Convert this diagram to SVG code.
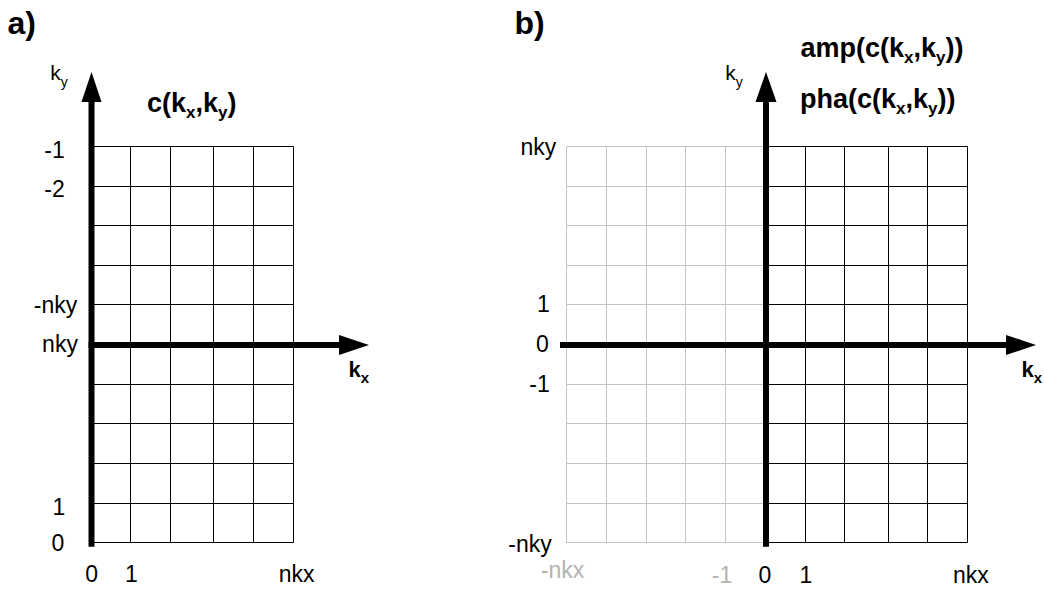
<svg xmlns="http://www.w3.org/2000/svg" width="1044" height="593" viewBox="0 0 1044 593">
<style>
.bg{fill:#fff}
.g{stroke:#000;stroke-width:1;fill:none}
.gg{stroke:#c4c4c4;stroke-width:1;fill:none}
.ax{stroke:#000;stroke-width:6;fill:none}
.hd{fill:#000}
text{font-family:"Liberation Sans",Arial,sans-serif;fill:#000}
.t{font-size:23px;text-anchor:middle}
.tg{font-size:23px;text-anchor:middle;fill:#b3b3b3}
.b{font-weight:bold}
.pl{font-size:32px;font-weight:bold}
.ti{font-size:27px;font-weight:bold}
.kl{font-size:21px}
.kb{font-size:22px;font-weight:bold}
</style>
<rect class="bg" x="0" y="0" width="1044" height="593"/>
<g id="panel-a-grid">
<path class="g" d="M130.5 146.5V542.5M170.5 146.5V542.5M213.5 146.5V542.5M253.5 146.5V542.5M293.5 146.5V542.5M91 146.5H293.5M91 186.5H293.5M91 225.5H293.5M91 265.5H293.5M91 304.5H293.5M91 384.5H293.5M91 423.5H293.5M91 463.5H293.5M91 503.5H293.5M91 542.5H293.5"/>
</g>
<g id="panel-b-grid">
<path class="gg" d="M566.5 146.5V542.5M606.5 146.5V542.5M646.5 146.5V542.5M685.5 146.5V542.5M725.5 146.5V542.5M566.5 146.5H766M566.5 186.5H766M566.5 225.5H766M566.5 265.5H766M566.5 304.5H766M566.5 384.5H766M566.5 423.5H766M566.5 463.5H766M566.5 503.5H766M566.5 542.5H766"/>
<path class="g" d="M805.5 146.5V542.5M844.5 146.5V542.5M888.5 146.5V542.5M927.5 146.5V542.5M967.5 146.5V542.5M766 146.5H967.5M766 186.5H967.5M766 225.5H967.5M766 265.5H967.5M766 304.5H967.5M766 384.5H967.5M766 423.5H967.5M766 463.5H967.5M766 503.5H967.5M766 542.5H967.5"/>
</g>
<g id="connectors">
<path class="ax" d="M91.5 546.7V100"/>
<polygon class="hd" points="81.5,102 91.5,72 101.5,102"/>
<path class="ax" d="M88.5 345H341"/>
<polygon class="hd" points="339,335 369,345 339,355"/>
<path class="ax" d="M766 546.7V100"/>
<polygon class="hd" points="755.5,102 766,72 776.5,102"/>
<path class="ax" d="M560 345H1008"/>
<polygon class="hd" points="1006,335 1036,345 1006,355"/>
</g>
<g id="panel-a-labels">
<text class="pl" x="7.5" y="33.5">a)</text>
<text class="kl" x="50.3" y="80">k<tspan font-size="14" dy="7">y</tspan></text>
<text class="ti" x="147" y="112">c(k<tspan font-size="17" dy="6">x</tspan><tspan dy="-6">,k</tspan><tspan font-size="17" dy="6">y</tspan><tspan dy="-6">)</tspan></text>
<text class="kb" x="348.5" y="376.7">k<tspan font-size="15" dy="6">x</tspan></text>
<text class="t" x="54.5" y="158">-1</text>
<text class="t" x="54.5" y="197">-2</text>
<text class="t" x="55.5" y="313">-nky</text>
<text class="t" x="60" y="352">nky</text>
<text class="t" x="59" y="515">1</text>
<text class="t" x="58" y="551">0</text>
<text class="t" x="91.7" y="582">0</text>
<text class="t" x="131.5" y="582">1</text>
<text class="t" x="296.7" y="582">nkx</text>
</g>
<g id="panel-b-labels">
<text class="pl" x="514.5" y="33.5">b)</text>
<text class="kl" x="725.3" y="80">k<tspan font-size="14" dy="7">y</tspan></text>
<text class="ti" x="800.5" y="57">amp(c(k<tspan font-size="17" dy="6">x</tspan><tspan dy="-6">,k</tspan><tspan font-size="17" dy="6">y</tspan><tspan dy="-6">))</tspan></text>
<text class="ti" x="800" y="108">pha(c(k<tspan font-size="17" dy="6">x</tspan><tspan dy="-6">,k</tspan><tspan font-size="17" dy="6">y</tspan><tspan dy="-6">))</tspan></text>
<text class="kb" x="1021.5" y="376.7">k<tspan font-size="15" dy="6">x</tspan></text>
<text class="t" x="538.3" y="155">nky</text>
<text class="t" x="543.4" y="312">1</text>
<text class="t" x="542.5" y="352">0</text>
<text class="t" x="539.5" y="392">-1</text>
<text class="t" x="530" y="552">-nky</text>
<text class="tg" x="562.5" y="578">-nkx</text>
<text class="tg" x="722" y="583">-1</text>
<text class="t" x="765" y="583">0</text>
<text class="t" x="806" y="583">1</text>
<text class="t" x="970.8" y="583">nkx</text>
</g>
</svg>
